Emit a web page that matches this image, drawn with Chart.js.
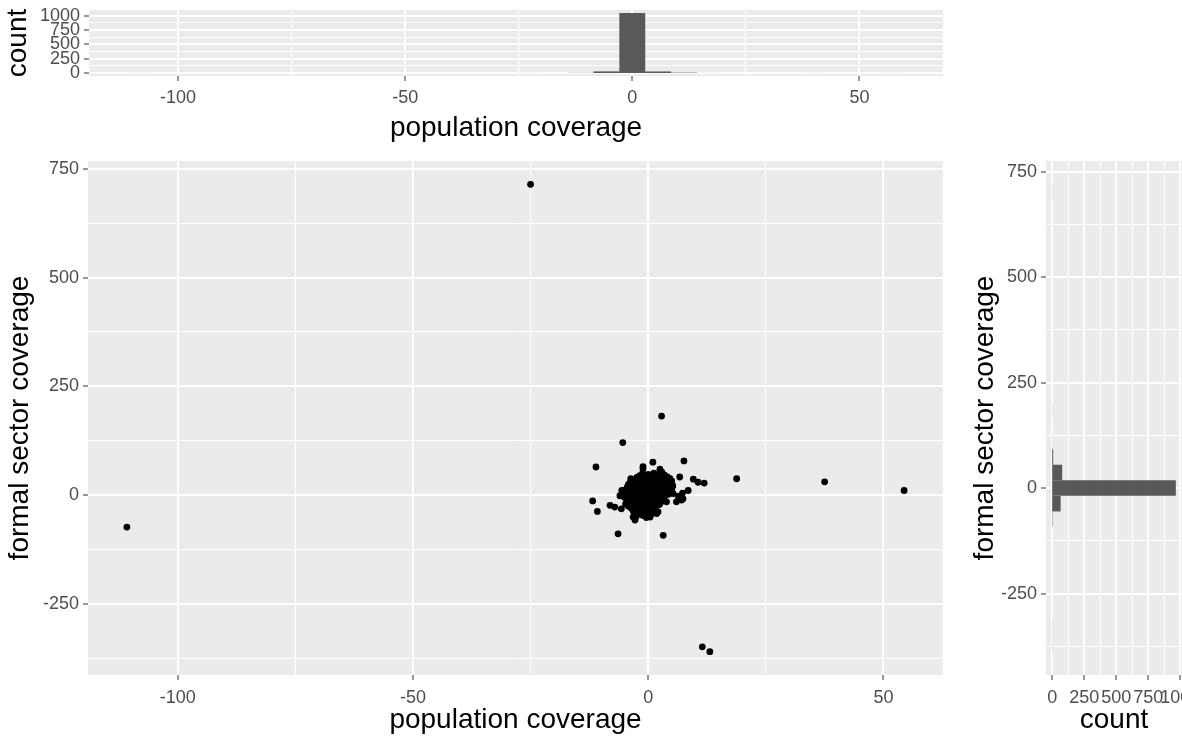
<!DOCTYPE html>
<html>
<head>
<meta charset="utf-8">
<script src="https://cdn.jsdelivr.net/npm/chart.js@4.4.1/dist/chart.umd.min.js"></script>
<style>
  body { margin: 0; background: #fff; width: 1182px; height: 740px; overflow: hidden; position: relative; }
  canvas { position: absolute; }
</style>
</head>
<body>
<canvas id="top-hist" width="960" height="145" style="left:0;top:0"></canvas>
<canvas id="scatter" width="960" height="595" style="left:0;top:145px"></canvas>
<canvas id="right-hist" width="222" height="595" style="left:960px;top:145px"></canvas>
<script>
'use strict';

// scatter points (the dense blob near 0 is approximated)
const popCoverage = [
  -110.8, -25, 11.5, 13.1, 37.5, 54.4, 18.8,
  2.85, -5.4, -11.1, 7.6, 1.0, -1.1, -1.1, 6.7, 9.6, 10.6, 11.9, -11.8, -10.8, -6.4, 3.2, -8.1, 3.9, 6.0, 7.4, 8.5, 7.3, 7.1, 6.4,
  -3.7, -7.1, -5.7, -6, -5.6, -2.8, -3.2, 0.4, 1.8, 2.1, 2.5, 2.9, 4.6, 5.0, 5.3,
  -1.2, 0, 1.2, 2.4, 3.4,
  -1.8, -0.6, 0.6, 1.8, 3.0, 4.0,
  -2.4, -1.2, 0, 1.2, 2.4, 3.6, 4.6,
  -3.2, -2.0, -0.8, 0.4, 1.6, 2.8, 4.0, 5.0,
  -3.8, -2.6, -1.4, -0.2, 1, 2.2, 3.4, 4.6,
  -4.2, -3.0, -1.8, -0.6, 0.6, 1.8, 3.0, 4.2, 5.2,
  -4.4, -3.2, -2, -0.8, 0.4, 1.6, 2.8, 4, 5.2,
  -4.6, -3.4, -2.2, -1.0, 0.2, 1.4, 2.6, 3.8, 5.0,
  -5, -3.8, -2.6, -1.4, -0.2, 1, 2.2, 3.4, 4.6,
  -5.2, -4.0, -2.8, -1.6, -0.4, 0.8, 2.0, 3.2, 4.4,
  -5.6, -4.4, -3.2, -2, -0.8, 0.4, 1.6, 2.8, 4,
  -5.0, -3.8, -2.6, -1.4, -0.2, 1.0, 2.2, 3.4,
  -4, -2.8, -1.6, -0.4, 0.8, 2, 3.2,
  -4.4, -3.2, -2.0, -0.8, 0.4, 1.6, 2.8,
  -4.8, -3.6, -2.4, -1.2, 0, 1.2, 2.4,
  -4.2, -3.0, -1.8, -0.6, 0.6, 1.8,
  -3.6, -2.4, -1.2, 0, 1.2,
  -3.2, -2.0, -0.8, 0.4, 1.6,
  -3, -1.8, -0.6, 0.8,
  -2.4, -1.2, 0.2,
  -2.6, -0.4
];
const formalCoverage = [
  -73, 714, -348, -359, 31, 11, 38,
  182, 121, 65, 79, 76, 66, 61, 42, 37, 30, 28, -13, -37, -88.5, -92, -23, -15, -15, -8, 11, 5, -11, -2,
  38, -27, -31, -1, 11, -57, -50, -50, -42, -38, 60, 53, 34, 19, 4,
  50, 48, 51, 49, 47,
  45, 44, 46, 45, 44, 43,
  41, 39, 42, 40, 38, 41, 39,
  35, 36, 34, 35, 36, 34, 35, 33,
  30, 31, 29, 30, 28, 31, 29, 27,
  25, 24, 26, 25, 24, 26, 25, 24, 23,
  20, 21, 19, 20, 22, 19, 21, 18, 20,
  15, 16, 14, 15, 16, 14, 15, 14, 13,
  10, 11, 9, 10, 12, 9, 11, 10, 8,
  5, 6, 4, 5, 6, 4, 5, 4, 3,
  0, -1, 1, 0, -2, 1, -1, 0, 2,
  -5, -4, -6, -5, -4, -6, -5, -4,
  -10, -11, -9, -10, -12, -10, -9,
  -15, -16, -14, -15, -16, -14, -15,
  -20, -21, -19, -20, -22, -19, -21,
  -25, -26, -24, -25, -26, -24,
  -30, -31, -29, -30, -32,
  -35, -36, -34, -35, -36,
  -40, -41, -39, -42,
  -45, -46, -44,
  -49, -51
];

// histogram of population coverage (30 bins, width ~5.7)
const topBinCenters = [-108.2, -22.8, -11.4, -5.7, 0, 5.7, 11.4, 17.1, 39.9, 57.0];
const topBinCounts = [1, 1, 3, 28, 1046, 27, 7, 1, 1, 1];

// histogram of formal sector coverage (30 bins, width ~36.9)
const rightBinCenters = [-369.2, -332.3, -73.8, -36.9, 0, 36.9, 73.8, 110.8, 184.6, 701.5];
const rightBinCounts = [1, 1, 3, 66, 965, 78, 8, 1, 1, 1];

const popMajor = [-100, -50, 0, 50];
const popMinor = [-75, -25, 25];
const formalMajor = [-250, 0, 250, 500, 750];
const formalMinor = [-375, -125, 125, 375, 625];
const countMajor = [0, 250, 500, 750, 1000];
const countMinor = [125, 375, 625, 875];

const FONT = "'Liberation Sans', Arial, sans-serif";
const panelBg = {
  id: 'panelBg',
  beforeDraw(chart) {
    const a = chart.chartArea;
    chart.ctx.save();
    chart.ctx.fillStyle = '#EBEBEB';
    chart.ctx.fillRect(a.left, a.top, a.right - a.left, a.bottom - a.top);
    chart.ctx.restore();
  }
};

function axis(min, max, major, minor, size, title, titlePad, tickPad) {
  const all = major.concat(minor).sort((a, b) => a - b);
  return {
    type: 'linear',
    min: min,
    max: max,
    offset: false,
    border: { display: false },
    grid: {
      offset: false,
      color: '#FFFFFF',
      lineWidth: (c) => major.includes(c.tick.value) ? 2 : 1,
      tickColor: (c) => major.includes(c.tick.value) ? '#333333' : 'rgba(0,0,0,0)',
      tickLength: 5,
      tickWidth: 1
    },
    ticks: {
      autoSkip: false,
      maxRotation: 0,
      padding: tickPad,
      color: '#4D4D4D',
      font: { family: FONT, size: 18 },
      callback: (v) => major.includes(v) ? String(v) : ''
    },
    title: {
      display: true,
      text: title,
      color: '#000000',
      font: { family: FONT, size: 28 },
      padding: titlePad
    },
    afterBuildTicks: (s) => {
      s.ticks = all.map((v) => ({ value: v }));
      // bars should start right at 0, not half a grid line away from it
      s.getLineWidthForValue = () => 0;
    },
    afterFit: (s) => {
      if (s.isHorizontal()) s.height = size; else s.width = size;
      s.paddingLeft = 0; s.paddingRight = 0; s.paddingTop = 0; s.paddingBottom = 0;
    }
  };
}

const common = {
  responsive: false,
  animation: false,
  devicePixelRatio: 1,
  plugins: { legend: { display: false }, tooltip: { enabled: false } }
};

// top histogram
new Chart(document.getElementById('top-hist'), {
  type: 'bar',
  data: {
    datasets: [{
      data: topBinCenters.map((c, i) => ({ x: c, y: topBinCounts[i] })),
      backgroundColor: '#595959',
      borderWidth: 0,
      inflateAmount: 0,
      barPercentage: 1,
      categoryPercentage: 1
    }]
  },
  options: Object.assign({}, common, {
    layout: { padding: { top: 10, right: 17, left: 0, bottom: 0 } },
    scales: {
      x: axis(-119.6, 68.4, popMajor, popMinor, 69, 'population coverage', { top: 0, bottom: 0 }, 6),
      y: axis(-52.3, 1098.3, countMajor, countMinor, 89, 'count', { top: 1, bottom: 0 }, 4)
    }
  }),
  plugins: [panelBg]
});

// main scatter
new Chart(document.getElementById('scatter'), {
  type: 'scatter',
  data: {
    datasets: [{
      data: popCoverage.map((x, i) => ({ x: x, y: formalCoverage[i] })),
      backgroundColor: '#000000',
      borderWidth: 0,
      pointRadius: 3.4
    }]
  },
  options: Object.assign({}, common, {
    layout: { padding: { top: 16, right: 17, left: 0, bottom: 0 } },
    scales: {
      x: axis(-119.06, 62.66, popMajor, popMinor, 65, 'population coverage', { top: 0, bottom: 3 }, 7),
      y: axis(-412.65, 767.65, formalMajor, formalMinor, 88, 'formal sector coverage', { top: 3, bottom: 0 }, 4)
    }
  }),
  plugins: [panelBg]
});

// right histogram
new Chart(document.getElementById('right-hist'), {
  type: 'bar',
  data: {
    datasets: [{
      data: rightBinCenters.map((c, i) => ({ x: rightBinCounts[i], y: c })),
      backgroundColor: '#595959',
      borderWidth: 0,
      inflateAmount: 0,
      barPercentage: 1,
      categoryPercentage: 1
    }]
  },
  options: Object.assign({}, common, {
    indexAxis: 'y',
    layout: { padding: { top: 16, right: 0, left: 0, bottom: 0 } },
    scales: {
      x: axis(-48.25, 1013.25, countMajor, countMinor, 65, 'count', { top: 0, bottom: 3 }, 7),
      y: axis(-443.1, 775.3, formalMajor, formalMinor, 86, 'formal sector coverage', { top: 8, bottom: 0 }, 4)
    }
  }),
  plugins: [panelBg]
});
</script>
</body>
</html>
